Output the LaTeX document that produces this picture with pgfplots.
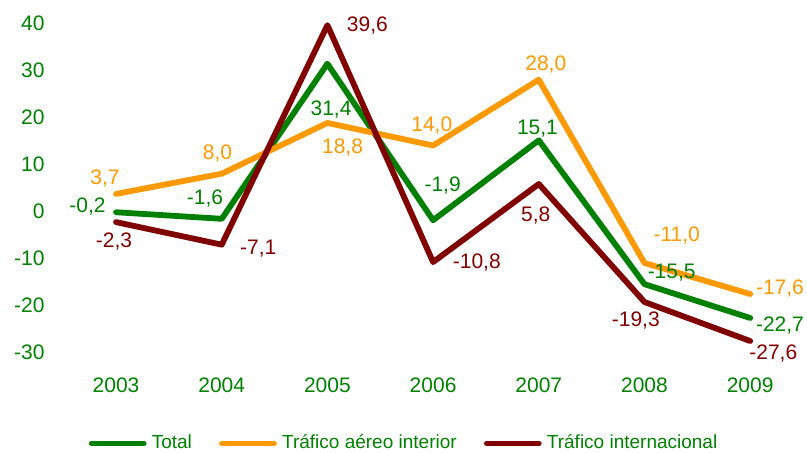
\documentclass[border=0pt]{standalone}
\usepackage{fontspec}
\setmainfont{Liberation Sans}
\usepackage{pgfplots}
\pgfplotsset{compat=1.18}
\usepackage{pgfplotstable}
\definecolor{cgreen}{HTML}{008000}
\definecolor{corange}{HTML}{FF9900}
\definecolor{cred}{HTML}{800000}

% x = year, y = value, dx/dy = label offset (pt)
\pgfplotstableread{
x y dx dy
2003 -0.2 -14.25 3.5
2004 -1.6 -8.35 11
2005 31.4 1.8 -22.3
2006 -1.9 4.75 18
2007 15.1 -0.65 6.4
2008 -15.5 13.6 6.6
2009 -22.7 14.9 -3
}\tabtotal

\pgfplotstableread{
x y dx dy
2003 3.7 -5.5 8.6
2004 8.0 -2.1 11
2005 18.8 7.55 -11.4
2006 14.0 -0.65 10.85
2007 28.0 3.5 8.35
2008 -11.0 16.1 14.5
2009 -17.6 14.9 3.65
}\tabinterior

\pgfplotstableread{
x y dx dy
2003 -2.3 -1 -8.95
2004 -7.1 18.3 -1.15
2005 39.6 20 0.5
2006 -10.8 21.85 0.2
2007 5.8 -1.5 -15.1
2008 -19.3 -4.35 -8.6
2009 -27.6 11.55 -5.75
}\tabintl

\pgfplotsset{
  lbl/.style={
    nodes near coords={\pgfmathprintnumber[fixed,fixed zerofill,precision=1,use comma,assume math mode=true]{\pgfplotspointmeta}},
    point meta=y,
    visualization depends on={\thisrow{dx}\as\labdx},
    visualization depends on={\thisrow{dy}\as\labdy},
    every node near coord/.append style={anchor=center, inner sep=0pt, text depth=0pt,
      font=\fontsize{10.5}{12}\selectfont, text=#1,
      xshift=\labdx pt, yshift=\labdy pt},
  },
  serie/.style={color=#1, line width=2.9pt, line join=round, line cap=round, mark=none},
}

\begin{document}
\begin{tikzpicture}
\begin{axis}[
  at={(0pt,0pt)}, anchor=south west,
  scale only axis,
  width=369.9pt, height=164.5pt,
  xmin=2002.5, xmax=2009.5,
  ymin=-30, ymax=40,
  clip=false,
  axis line style={draw=none},
  major tick length=0pt,
  tick style={draw=none},
  xtick={2003,2004,2005,2006,2007,2008,2009},
  xticklabels={2003,2004,2005,2006,2007,2008,2009},
  ytick={-30,-20,-10,0,10,20,30,40},
  yticklabels={-30,-20,-10,0,10,20,30,40},
  ticklabel style={font=\fontsize{10.5}{12}\selectfont, text=cgreen, inner sep=0pt},
  xticklabel style={anchor=base, yshift=-20pt},
  yticklabel style={anchor=east, xshift=-9.1pt},
  legend columns=3,
  legend style={at={(0,0)}, anchor=west, xshift=12.6pt, yshift=-45.6pt,
    draw=none, fill=none, inner sep=0pt,
    font=\fontsize{9.5}{11}\selectfont,
    nodes={inner sep=0pt},
    /tikz/every odd column/.style={column sep=2.6pt},
    /tikz/every even column/.style={column sep=13.6pt}},
  legend image code/.code={\draw[#1, line cap=round] (0pt,0pt) -- (26pt,0pt);},
]
\addplot[serie=cgreen, lbl=cgreen] table[x=x,y=y]{\tabtotal};
\addlegendentry{\textcolor{cgreen}{Total}}
\addplot[serie=corange, lbl=corange] table[x=x,y=y]{\tabinterior};
\addlegendentry{\textcolor{cgreen}{Tráfico aéreo interior}}
\addplot[serie=cred, lbl=cred] table[x=x,y=y]{\tabintl};
\addlegendentry{\textcolor{cgreen}{Tráfico internacional}}
\end{axis}
\pgfresetboundingbox
\useasboundingbox (-31.6pt,-50.35pt) rectangle (371.9pt,176.15pt);
\end{tikzpicture}
\end{document}
